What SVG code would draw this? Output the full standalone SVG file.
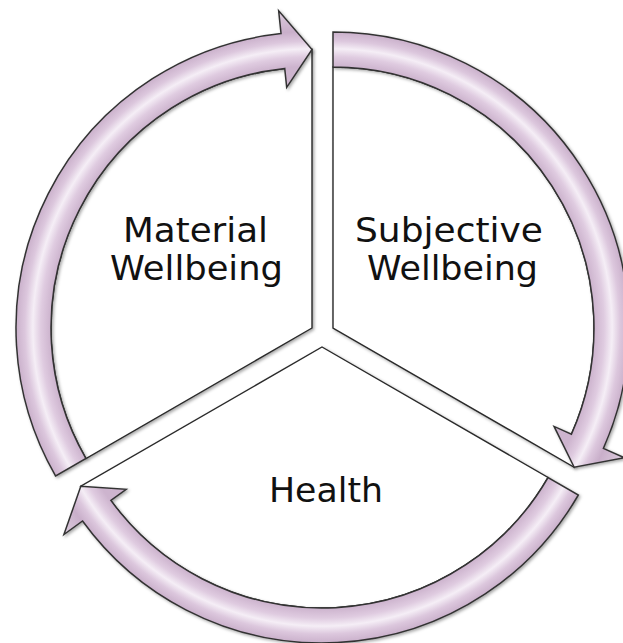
<svg xmlns="http://www.w3.org/2000/svg" width="623" height="643" viewBox="0 0 623 643">
  <defs>
    <radialGradient id="band" gradientUnits="userSpaceOnUse" cx="0" cy="0" r="319">
      <stop offset="0.75" stop-color="#cdb5ce"/>
      <stop offset="0.82" stop-color="#cdb4ce"/>
      <stop offset="0.85" stop-color="#dfcbe0"/>
      <stop offset="0.875" stop-color="#f5eef6"/>
      <stop offset="0.9" stop-color="#dcc7dd"/>
      <stop offset="0.93" stop-color="#c9afca"/>
      <stop offset="1" stop-color="#ddcdde"/>
    </radialGradient>
    <filter id="soft" x="-10%" y="-10%" width="120%" height="120%">
      <feDropShadow dx="1.5" dy="1.5" stdDeviation="1.6" flood-color="#000" flood-opacity="0.35"/>
    </filter>
  </defs>
  <style>
    .sector { fill: #ffffff; stroke: #2a2a2a; stroke-width: 1.4; stroke-linejoin: miter; filter: url(#soft); }
    .arrow { fill: url(#band); stroke: #333333; stroke-width: 1.5; stroke-linejoin: miter; filter: url(#soft); }
    .label { font-family: "DejaVu Sans", "Liberation Sans", sans-serif; font-size: 34px; fill: #111111; }
  </style>
  <rect width="623" height="643" fill="#ffffff"/>

  <g id="material" transform="translate(312,328)">
    <path class="sector" d="M0,0 L-226.03,130.5 A261,261 0 0 1 -27.28,-259.57 L0,-278.5 Z"/>
  </g>
  <g id="subjective" transform="translate(333,328)">
    <path class="sector" d="M0,0 L0,-261 A261,261 0 0 1 238.43,106.16 L241.19,139.25 Z"/>
  </g>
  <g id="health" transform="translate(322,347)">
    <path class="sector" d="M0,0 L226.03,130.5 A261,261 0 0 1 -211.15,153.41 L-241.19,139.25 Z"/>
  </g>

  <g id="connectors">
    <g transform="translate(312,328)">
      <path class="arrow" d="M-256.34,148 A296,296 0 0 1 -30.94,-294.38 L-33.34,-317.25 L0,-278.5 L-25.30,-240.67 L-27.28,-259.57 A261,261 0 0 0 -226.03,130.5 Z"/>
    </g>
    <g transform="translate(333,328)">
      <path class="arrow" d="M0,-296 A296,296 0 0 1 270.41,120.39 L291.42,129.75 L241.19,139.25 L221.08,98.43 L238.43,106.16 A261,261 0 0 0 0,-261 Z"/>
    </g>
    <g transform="translate(322,347)">
      <path class="arrow" d="M256.34,148 A296,296 0 0 1 -239.47,173.98 L-258.08,187.5 L-241.19,139.25 L-195.78,142.24 L-211.15,153.41 A261,261 0 0 0 226.03,130.5 Z"/>
    </g>
  </g>

  <g id="labels">
    <text class="label" x="123" y="242" textLength="145" lengthAdjust="spacingAndGlyphs">Material</text>
    <text class="label" x="110" y="280" textLength="173" lengthAdjust="spacingAndGlyphs">Wellbeing</text>
    <text class="label" x="355" y="242" textLength="188" lengthAdjust="spacingAndGlyphs">Subjective</text>
    <text class="label" x="367" y="280" textLength="171" lengthAdjust="spacingAndGlyphs">Wellbeing</text>
    <text class="label" x="269" y="502" textLength="114" lengthAdjust="spacingAndGlyphs">Health</text>
  </g>
</svg>
